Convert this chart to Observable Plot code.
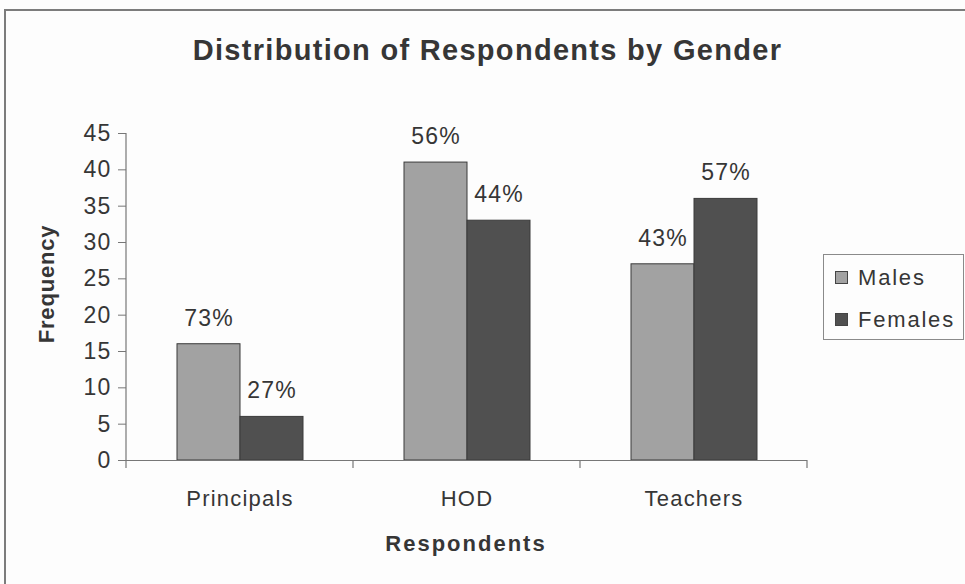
<!DOCTYPE html>
<html>
<head>
<meta charset="utf-8">
<script src="https://cdn.jsdelivr.net/npm/d3@7"></script>
<script src="https://cdn.jsdelivr.net/npm/@observablehq/plot@0.6"></script>
<style>
  html, body { margin: 0; padding: 0; background: #ffffff; }
  body { font-family: "Liberation Sans", Arial, sans-serif; color: #363636; }
  #chart { position: relative; width: 965px; height: 584px; overflow: hidden; background: #fdfdfd; }
  #border { position: absolute; left: 4px; top: 9px; right: -10px; bottom: -10px;
            border-top: 2px solid #7c7c7c; border-left: 2px solid #7c7c7c; }
  #plot { position: absolute; left: 0; top: 0; }
  #plot svg text { letter-spacing: 1.2px; }
  .lbl { position: absolute; white-space: nowrap; line-height: 1; color: #363636; }
  #title { font-size: 29px; font-weight: bold; letter-spacing: 1.3px; left: 0; width: 975px; text-align: center; top: 36px; }
  #ylabel { font-size: 22px; font-weight: bold; letter-spacing: 0.8px; left: 47px; top: 284px;
            transform: translate(-50%, -50%) rotate(-90deg); }
  #xlabel { font-size: 22px; font-weight: bold; letter-spacing: 2px; left: 0; width: 932px; text-align: center; top: 533px; }
  #legend { position: absolute; left: 823px; top: 254px; width: 139px; height: 84px;
            border: 1px solid #8a8a8a; background: #fdfdfd; }
  .item { position: absolute; left: 11px; font-size: 22px; letter-spacing: 1.8px; line-height: 1; }
  .sw { display: inline-block; width: 11px; height: 11px; border: 1px solid #444; margin-right: 10px; vertical-align: 1px; }
</style>
</head>
<body>
<div id="chart">
  <div id="border"></div>
  <div id="plot"></div>
  <div id="title" class="lbl">Distribution of Respondents by Gender</div>
  <div id="ylabel" class="lbl">Frequency</div>
  <div id="xlabel" class="lbl">Respondents</div>
  <div id="legend"></div>
</div>
<script>
// Respondent groups and gender series
const groups = ["Principals", "HOD", "Teachers"];
const genders = ["Males", "Females"];
const males = [16, 41, 27];
const females = [6, 33, 36];
const malePct = ["73%", "56%", "43%"];
const femalePct = ["27%", "44%", "57%"];
const yTicks = [0, 5, 10, 15, 20, 25, 30, 35, 40, 45];
const colors = ["#a2a2a2", "#505050"];

const rows = groups.flatMap((g, i) => [
  {group: g, gender: genders[0], value: males[i], pct: malePct[i]},
  {group: g, gender: genders[1], value: females[i], pct: femalePct[i]}
]);

const ink = "#363636";

const plot = Plot.plot({
  width: 965,
  height: 584,
  marginLeft: 125,
  marginRight: 158,
  marginTop: 133,
  marginBottom: 124,
  style: {fontFamily: "'Liberation Sans', Arial, sans-serif", color: ink, background: "transparent"},
  fx: {domain: groups, padding: 0, label: null},
  x: {domain: genders, paddingInner: 0, paddingOuter: 0.8, axis: null},
  y: {domain: [0, 45], label: null},
  color: {domain: genders, range: colors},
  marks: [
    Plot.barY(rows, {fx: "group", x: "gender", y: "value", fill: "gender", stroke: "#3a3a3a", strokeWidth: 1}),
    Plot.text(rows, {fx: "group", x: "gender", y: "value", text: "pct", dy: -26, fontSize: 23, fill: ink}),
    Plot.ruleY([0], {stroke: "#777", strokeWidth: 1.2}),
    Plot.axisY({ticks: yTicks, tickSize: 8, tickPadding: 7, fontSize: 23, label: null, stroke: "#777", fill: ink}),
    Plot.axisFx({anchor: "bottom", tickSize: 0, tickPadding: 30, fontSize: 22, label: null, fill: ink})
  ]
});

// Category-boundary ticks and the vertical axis line, placed with the plot's own scales
const fx = plot.scale("fx");
const y = plot.scale("y");
const svg = d3.select(plot);
const y0 = y.apply(0), yTop = y.apply(45);
const bounds = groups.map(g => fx.apply(g)).concat(fx.apply(groups[groups.length - 1]) + fx.bandwidth);
svg.append("line")
  .attr("x1", bounds[0]).attr("x2", bounds[0])
  .attr("y1", yTop).attr("y2", y0)
  .attr("stroke", "#777").attr("stroke-width", 1.2);
svg.selectAll("line.bt").data(bounds).join("line")
  .attr("class", "bt")
  .attr("x1", d => d).attr("x2", d => d)
  .attr("y1", y0).attr("y2", y0 + 8)
  .attr("stroke", "#777").attr("stroke-width", 1.2);

document.getElementById("plot").appendChild(plot);

// Legend
const legend = d3.select("#legend");
genders.forEach((g, i) => {
  const item = legend.append("div").attr("class", "item").style("top", (12 + i * 42) + "px");
  item.append("span").attr("class", "sw").style("background", colors[i]);
  item.append("span").text(g);
});
</script>
</body>
</html>
